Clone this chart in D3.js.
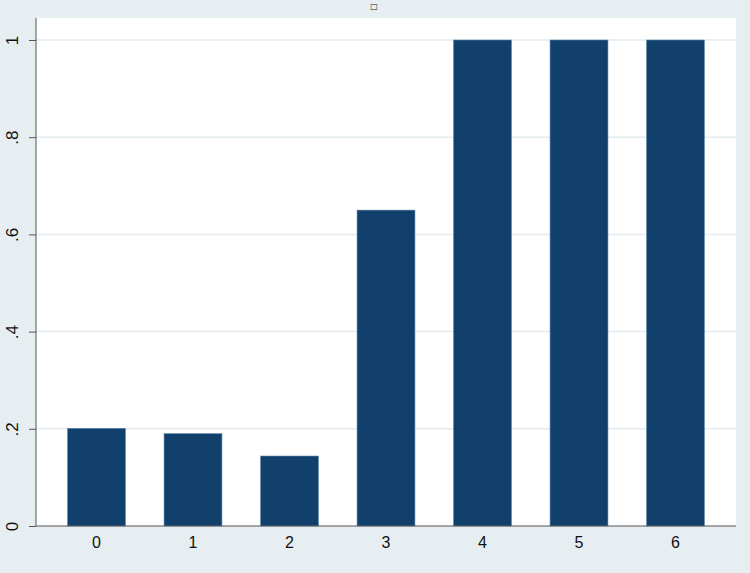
<!DOCTYPE html>
<html>
<head>
<meta charset="utf-8">
<script src="https://cdn.jsdelivr.net/npm/d3@7"></script>
<style>
  body { margin: 0; background: #e6eef2; }
  svg { display: block; }
</style>
</head>
<body>
<div id="chart"></div>
<script>
// data
var categories = ["0", "1", "2", "3", "4", "5", "6"];
var values = [0.201, 0.19, 0.144, 0.65, 1, 1, 1];
var yTicks = [0, 0.2, 0.4, 0.6, 0.8, 1];
var yTickLabels = ["0", ".2", ".4", ".6", ".8", "1"];

var W = 750, H = 573;
var margin = {top: 18, right: 14, bottom: 47, left: 36};
var width = W - margin.left - margin.right,
    height = H - margin.top - margin.bottom;

var svg = d3.select("#chart")
  .append("svg")
    .attr("width", W)
    .attr("height", H);

// outer background
svg.append("rect")
  .attr("width", W).attr("height", H)
  .attr("fill", "#e6eef2");

// title remnant (small square glyph at top)
svg.append("text")
  .attr("x", 374).attr("y", 9)
  .attr("text-anchor", "middle")
  .style("font-family", "DejaVu Sans")
  .style("font-size", "8px")
  .attr("fill", "#222")
  .text("\u25A1");

var g = svg.append("g")
  .attr("transform", "translate(" + margin.left + "," + margin.top + ")");

// plot region
g.append("rect")
  .attr("width", width).attr("height", height)
  .attr("fill", "#ffffff");

var x = d3.scaleBand()
  .domain(categories)
  .range([12.25, 687.75])
  .paddingInner(0.4)
  .paddingOuter(0.2);

var y = d3.scaleLinear()
  .domain([0, 1])
  .range([height, height - 486]);

// grid lines
g.append("g")
  .selectAll("line")
  .data(yTicks.slice(1))
  .enter()
  .append("line")
    .attr("x1", 0).attr("x2", width)
    .attr("y1", function (d) { return y(d); })
    .attr("y2", function (d) { return y(d); })
    .attr("stroke", "#e3ecf0")
    .attr("stroke-width", 1.5);

// bars
g.append("g")
  .selectAll("rect")
  .data(values)
  .enter()
  .append("rect")
    .attr("x", function (d, i) { return x(categories[i]); })
    .attr("width", x.bandwidth())
    .attr("y", function (d) { return y(d); })
    .attr("height", function (d) { return y(0) - y(d); })
    .attr("fill", "#11406d")
    .attr("stroke", "#5f86ab")
    .attr("stroke-width", 0.6);

// y axis
var yAxis = g.append("g")
  .call(d3.axisLeft(y)
    .tickValues(yTicks)
    .tickSize(7)
    .tickPadding(6)
    .tickFormat(function (d, i) { return yTickLabels[i]; }));
yAxis.select(".domain").attr("d", "M0," + height + "V0").attr("stroke", "#555");
yAxis.selectAll(".tick line").attr("stroke", "#555");
yAxis.selectAll(".tick text")
  .attr("transform", "rotate(-90)")
  .attr("x", 0)
  .attr("y", -18)
  .attr("dy", 0)
  .attr("text-anchor", "middle")
  .style("font-family", "Liberation Sans, Arial, sans-serif")
  .style("font-size", "17px")
  .attr("fill", "#111");

// x axis
var xAxis = g.append("g")
  .attr("transform", "translate(0," + height + ")")
  .call(d3.axisBottom(x).tickSize(0).tickPadding(11));
xAxis.select(".domain").attr("d", "M0,0H" + width).attr("stroke", "#555");
xAxis.selectAll(".tick text")
  .style("font-family", "Liberation Sans, Arial, sans-serif")
  .style("font-size", "16px")
  .attr("fill", "#111");
</script>
</body>
</html>
